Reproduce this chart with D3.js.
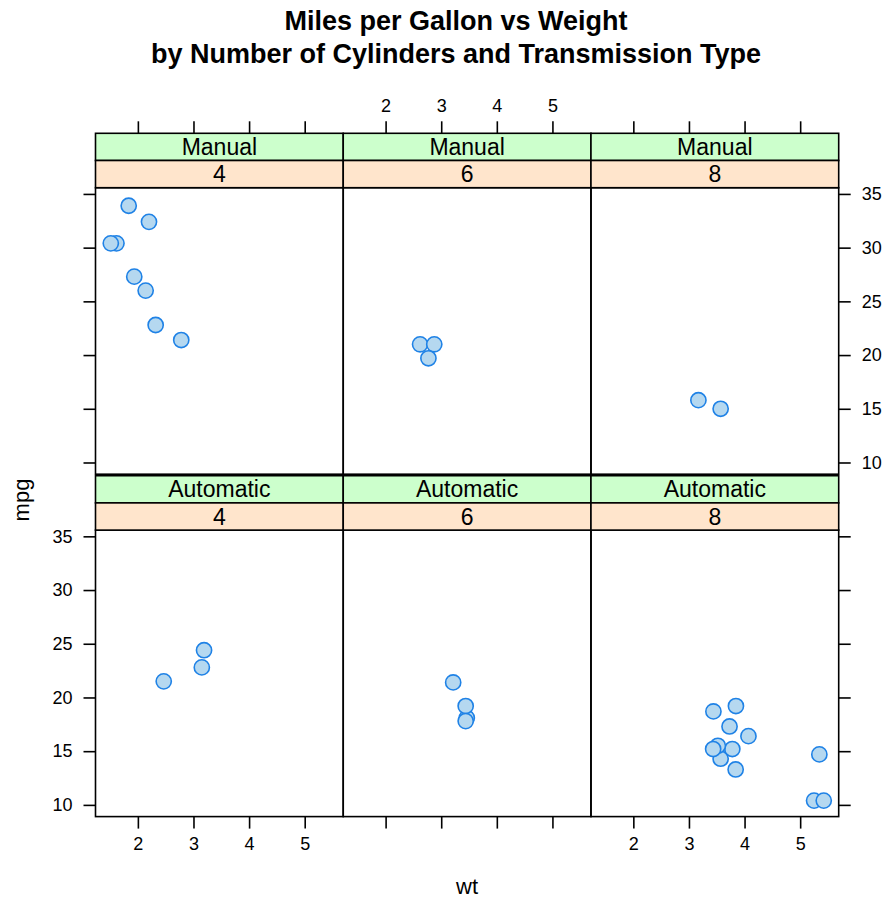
<!DOCTYPE html>
<html lang="en">

<head>
  <meta charset="utf-8">
  <title>Miles per Gallon vs Weight</title>
  <script src="https://cdnjs.cloudflare.com/ajax/libs/d3/7.8.5/d3.min.js"></script>
  <style type="text/css">
    body { margin: 0; background: #fff; }
    text { font-family: "Liberation Sans", Arial, sans-serif; fill: #000; }
    .frame { fill: none; stroke: #000; stroke-width: 1.6; }
    .tk { stroke: #000; stroke-width: 1.6; }
    .pt { fill: #b5d8f0; stroke: #1f82e6; stroke-width: 1.6; }
  </style>
</head>

<body>
  <script>
    var w = 887;
    var h = 899;

    // panel levels
    var cylLevels = [4, 6, 8];
    var amLevels = ['Manual', 'Automatic'];

    // mtcars: weight (1000 lbs), mpg, cylinders, transmission
    var wt = [2.62, 2.875, 2.32, 3.215, 3.44, 3.46, 3.57, 3.19, 3.15, 3.44, 3.44, 4.07, 3.73, 3.78,
      5.25, 5.424, 5.345, 2.2, 1.615, 1.835, 2.465, 3.52, 3.435, 3.84, 3.845, 1.935, 2.14, 1.513,
      3.17, 2.77, 3.57, 2.78];
    var mpg = [21.0, 21.0, 22.8, 21.4, 18.7, 18.1, 14.3, 24.4, 22.8, 19.2, 17.8, 16.4, 17.3, 15.2,
      10.4, 10.4, 14.7, 32.4, 30.4, 33.9, 21.5, 15.5, 15.2, 13.3, 19.2, 27.3, 26.0, 30.4,
      15.8, 19.7, 15.0, 21.4];
    var cyl = [6, 6, 4, 6, 8, 6, 8, 4, 4, 6, 6, 8, 8, 8,
      8, 8, 8, 4, 4, 4, 4, 8, 8, 8, 8, 4, 4, 4,
      8, 6, 8, 4];
    var am = ['Manual', 'Manual', 'Manual', 'Automatic', 'Automatic', 'Automatic', 'Automatic', 'Automatic',
      'Automatic', 'Automatic', 'Automatic', 'Automatic', 'Automatic', 'Automatic', 'Automatic', 'Automatic',
      'Automatic', 'Manual', 'Manual', 'Manual', 'Automatic', 'Automatic', 'Automatic', 'Automatic',
      'Automatic', 'Manual', 'Manual', 'Manual', 'Manual', 'Manual', 'Manual', 'Manual'];

    var xTicks = [2, 3, 4, 5];
    var yTicks = [10, 15, 20, 25, 30, 35];

    var titleLines = ['Miles per Gallon vs Weight', 'by Number of Cylinders and Transmission Type'];

    var cars = wt.map(function (d, i) {
      return { wt: d, mpg: mpg[i], cyl: cyl[i], am: am[i] };
    });

    // layout
    var left = 95.5, right = 838.7;
    var stripH = 27.2;
    var rowTop = [133.3, 475.7];   // top of strips for each row
    var panelH = 286.5;
    var tickLen = 12;
    var font = '"Liberation Sans", Arial, sans-serif';

    var col = d3.scaleBand().domain(cylLevels).range([left, right]);
    var pw = col.bandwidth();

    var xScale = d3.scaleLinear().domain([1.238, 5.693]).range([0, pw]);
    var yScale = d3.scaleLinear().domain([8.91, 35.58]).range([panelH, 0]);

    var svg = d3.select('body')
      .append('svg')
      .attr('width', w)
      .attr('height', h);

    // title
    svg.selectAll('text.title')
      .data(titleLines)
      .enter()
      .append('text')
      .attr('class', 'title')
      .attr('x', 456)
      .attr('y', (d, i) => 30 + i * 33)
      .attr('text-anchor', 'middle')
      .style('font-size', '27px')
      .style('font-weight', 'bold')
      .text(d => d);

    function styleAxis (sel) {
      sel.select('.domain').remove();
      sel.selectAll('.tick line').attr('class', 'tk');
      sel.selectAll('.tick text')
        .style('font-size', '18px')
        .style('font-family', font)
        .attr('fill', '#000');
    }

    amLevels.forEach(function (a, r) {
      var top = rowTop[r];
      var pTop = top + 2 * stripH;

      cylLevels.forEach(function (c, ci) {
        var x0 = col(c);
        var g = svg.append('g').attr('transform', 'translate(' + x0 + ',' + pTop + ')');

        // strips
        var strips = [
          { label: a, fill: '#ccffcc', y: top },
          { label: String(c), fill: '#ffe5cc', y: top + stripH }
        ];
        strips.forEach(function (s) {
          svg.append('rect')
            .attr('x', x0).attr('y', s.y)
            .attr('width', pw).attr('height', stripH)
            .attr('class', 'frame')
            .style('fill', s.fill);
          svg.append('text')
            .attr('x', x0 + pw / 2)
            .attr('y', s.y + stripH / 2 + 8)
            .attr('text-anchor', 'middle')
            .style('font-size', '23px')
            .text(s.label);
        });

        // points
        g.selectAll('circle')
          .data(cars.filter(d => d.cyl === c && d.am === a))
          .enter()
          .append('circle')
          .attr('class', 'pt')
          .attr('cx', d => xScale(d.wt))
          .attr('cy', d => yScale(d.mpg))
          .attr('r', 7.6);

        g.append('rect')
          .attr('class', 'frame')
          .attr('width', pw)
          .attr('height', panelH);

        // top ticks (above strips) on the first row
        if (r === 0) {
          var xAxisT = d3.axisTop(xScale).tickValues(xTicks)
            .tickSize(tickLen).tickPadding(9)
            .tickFormat(ci === 1 ? d3.format('d') : '');
          var at = svg.append('g')
            .attr('transform', 'translate(' + x0 + ',' + top + ')')
            .call(xAxisT);
          styleAxis(at);
        }

        // bottom ticks on the last row
        if (r === 1) {
          var xAxis = d3.axisBottom(xScale).tickValues(xTicks)
            .tickSize(tickLen).tickPadding(9)
            .tickFormat(ci === 1 ? '' : d3.format('d'));
          var ax = g.append('g')
            .attr('transform', 'translate(0,' + panelH + ')')
            .call(xAxis);
          styleAxis(ax);
        }

        // left ticks
        if (ci === 0) {
          var yAxisL = d3.axisLeft(yScale).tickValues(yTicks)
            .tickSize(tickLen).tickPadding(11)
            .tickFormat(r === 1 ? d3.format('d') : '');
          styleAxis(g.append('g').call(yAxisL));
        }

        // right ticks
        if (ci === cylLevels.length - 1) {
          var yAxisR = d3.axisRight(yScale).tickValues(yTicks)
            .tickSize(tickLen).tickPadding(11)
            .tickFormat(r === 0 ? d3.format('d') : '');
          styleAxis(g.append('g').attr('transform', 'translate(' + pw + ',0)').call(yAxisR));
        }
      });
    });

    // axis labels
    svg.append('text')
      .attr('x', 467)
      .attr('y', 894)
      .attr('text-anchor', 'middle')
      .style('font-size', '22px')
      .text('wt');

    svg.append('text')
      .attr('transform', 'translate(29,500) rotate(-90)')
      .attr('text-anchor', 'middle')
      .style('font-size', '22px')
      .text('mpg');
  </script>
</body>

</html>
